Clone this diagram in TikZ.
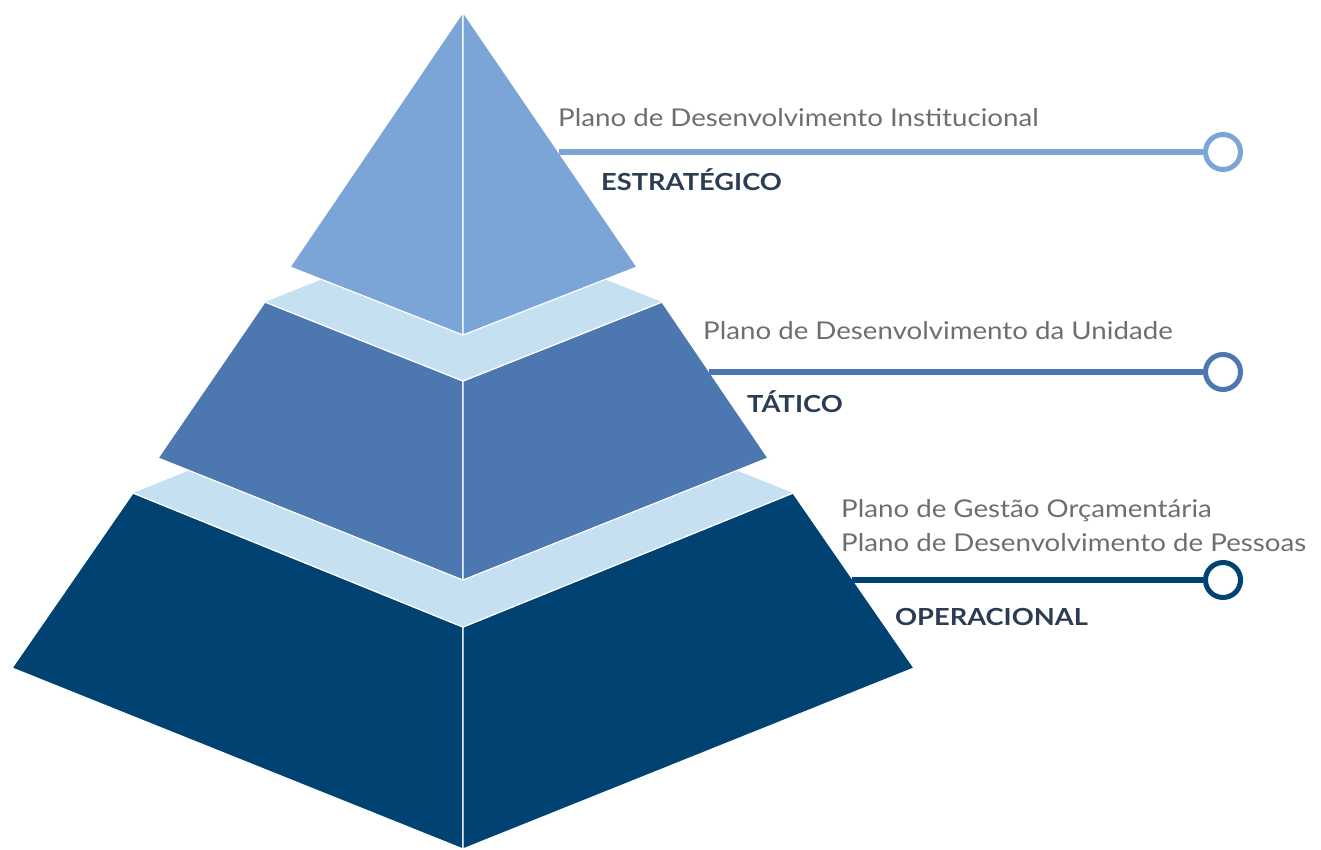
\documentclass[tikz,border=0pt]{standalone}
\usepackage{fontspec}
\setmainfont{Lato}
\newfontfamily\planfont[FakeStretch=1.13]{Lato}
\newfontfamily\levelfont[FakeStretch=1.16]{Lato}
\definecolor{cTop}{HTML}{7BA4D7}
\definecolor{cMid}{HTML}{4D77B0}
\definecolor{cBot}{HTML}{004372}
\definecolor{cBand}{HTML}{C4E0F1}
\definecolor{cText}{HTML}{6D6E71}
\definecolor{cHead}{HTML}{2B3D52}
\tikzset{
  face/.style={draw=white, line width=1.2pt, line join=miter},
  plan/.style={anchor=base west, inner sep=0pt, text=cText, font=\planfont\fontsize{24.5}{29}\selectfont},
  level/.style={anchor=base west, inner sep=0pt, text=cHead, font=\levelfont\bfseries\fontsize{23.5}{28}\selectfont},
  endring/.style={circle, draw=#1, fill=white, line width=5pt, minimum size=35pt, inner sep=0pt},
  link/.style={draw=#1, line width=6pt}
}
\begin{document}
\begin{tikzpicture}[x=1pt,y=-1pt]
\useasboundingbox (0,0) rectangle (1321,849);
% bottom tier
\fill[cBot, face] (133,493) -- (463,627) -- (463,849) -- (12,668) -- cycle;
\fill[cBot, face] (463,627) -- (793,493) -- (914,668) -- (463,849) -- cycle;
% lower band
\fill[cBand] (133,493) -- (463,361) -- (793,493) -- (463,627) -- cycle;
\draw[white, line width=1.2pt] (133,493) -- (463,627) -- (793,493);
% middle tier
\fill[cMid, face] (265,302) -- (463,381) -- (463,580) -- (158,458) -- cycle;
\fill[cMid, face] (463,381) -- (662,302) -- (768,458) -- (463,580) -- cycle;
% upper band
\fill[cBand] (265,302) -- (463,223) -- (662,302) -- (463,381) -- cycle;
\draw[white, line width=1.2pt] (265,302) -- (463,381) -- (662,302);
% top tier
\fill[cTop, face] (463,12) -- (290,267) -- (463,335) -- cycle;
\fill[cTop, face] (463,12) -- (463,335) -- (637,267) -- cycle;
% connector start points on the pyramid edges
\coordinate (e1) at (559,152);
\coordinate (e2) at (709,372);
\coordinate (e3) at (852,580);
% end rings
\node[endring=cTop] (r1) at (1223,152) {};
\node[endring=cMid] (r2) at (1223,372) {};
\node[endring=cBot] (r3) at (1223,580) {};
\draw[link=cTop] (e1) -- (r1.west);
\draw[link=cMid] (e2) -- (r2.west);
\draw[link=cBot] (e3) -- (r3.west);
% texts
\node[plan] (p1) at (558,126) {Plano de Desenvolvimento Institucional};
\node[level] (l1) at (601,190) {ESTRATÉGICO};
\node[plan] (p2) at (703,339) {Plano de Desenvolvimento da Unidade};
\node[level] (l2) at (747,412) {TÁTICO};
\node[plan] (p3) at (841,517) {Plano de Gestão Orçamentária};
\node[plan] (p4) at (841,551) {Plano de Desenvolvimento de Pessoas};
\node[level] (l3) at (895,625) {OPERACIONAL};
\end{tikzpicture}
\end{document}
